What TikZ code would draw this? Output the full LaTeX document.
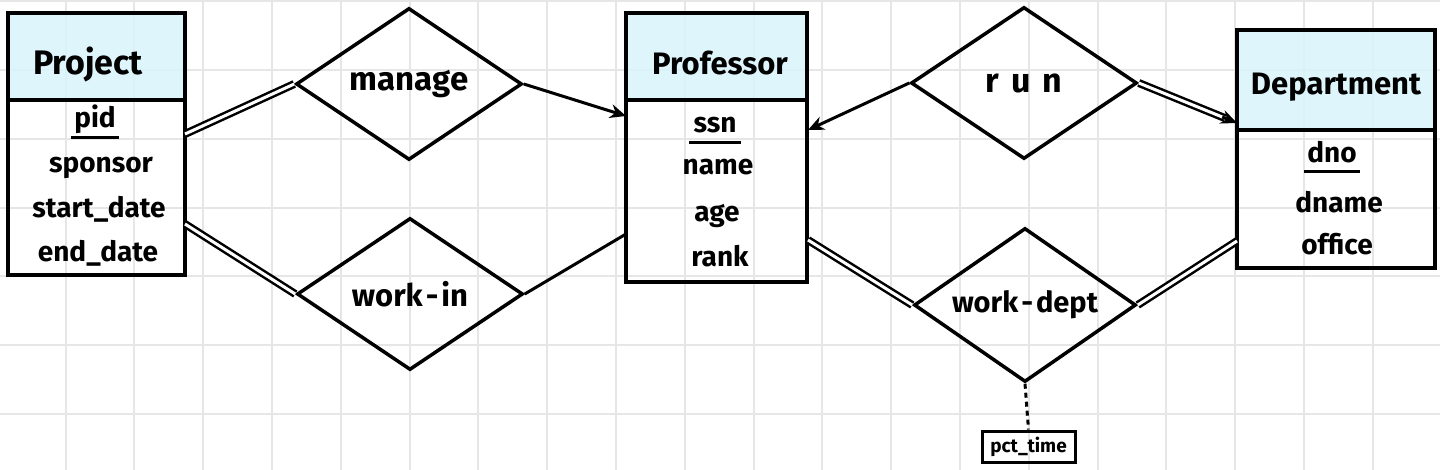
\documentclass[tikz,border=0pt]{standalone}
\usepackage{fontspec}
\setmainfont{Fira Sans}
\usetikzlibrary{shapes.geometric,arrows.meta,calc}
\definecolor{hdrblue}{RGB}{217,244,251}
\definecolor{gridgray}{RGB}{230,230,230}
\begin{document}
\begin{tikzpicture}[x=1pt,y=-1pt,
  gridline/.style={draw=gridgray,line width=2pt},
  hdr/.style={draw,line width=3.5pt,fill=hdrblue,fill opacity=0.85,rectangle,inner sep=0},
  body/.style={draw,line width=3.5pt,rectangle,inner sep=0},
  attr/.style={anchor=base,inner sep=0,font=\bfseries\fontsize{28}{28}\selectfont},
  ttl/.style={anchor=base,inner sep=0,font=\bfseries\fontsize{31}{31}\selectfont},
  rel/.style={draw,line width=3.5pt,shape=diamond,aspect=2,inner sep=0,minimum width=226pt,minimum height=152pt,font=\bfseries\fontsize{31}{31}\selectfont},
  conn/.style={line width=3pt},
  dbl/.style={line width=2.5pt,double=white,double distance=3pt},
  arr/.style={line width=3pt,-{Stealth[length=16pt,width=14pt]}},
  keyline/.style={line width=3pt},
  dotline/.style={line width=3pt,dash pattern=on 5pt off 4pt},
  attrbox/.style={draw,line width=3pt,inner sep=0,minimum width=93pt,minimum height=31pt,font=\bfseries\fontsize{19}{19}\selectfont}
]
\useasboundingbox (0,0) rectangle (1440,470);
\fill[white] (0,0) rectangle (1440,470);
% grid
\foreach \i in {0,...,20} \draw[gridline] ({65.5+68.8*\i},0) -- ({65.5+68.8*\i},470);
\foreach \j in {0,...,6} \draw[gridline] (0,{1.2+68.8*\j}) -- (1440,{1.2+68.8*\j});

% Project
\node[hdr, minimum width=177pt, minimum height=87pt] (projH) at (96.5,56.5) {};
\node[body, minimum width=177pt, minimum height=175pt] (projB) at (96.5,187.5) {};
\node[ttl, font=\bfseries\fontsize{34}{34}\selectfont] (projT) at (88,75) {Project};
\node[attr] (pid) at (95,128) {pid};
\draw[keyline] ([xshift=-3pt,yshift=-10pt]pid.base west) -- ([xshift=3pt,yshift=-10pt]pid.base east);
\node[attr] (sponsor) at (101,173) {sponsor};
\node[attr] (sdate) at (99,218) {start\_date};
\node[attr] (edate) at (98,262) {end\_date};

% Professor
\node[hdr, minimum width=181pt, minimum height=87pt] (profH) at (716.5,56.5) {};
\node[body, minimum width=181pt, minimum height=182pt] (profB) at (716.5,191) {};
\node[ttl] (profT) at (720,75) {Professor};
\node[attr] (ssn) at (715,133) {ssn};
\draw[keyline] ([xshift=-4pt,yshift=-10pt]ssn.base west) -- ([xshift=4pt,yshift=-10pt]ssn.base east);
\node[attr] (pname) at (718,175) {name};
\node[attr] (page) at (717,222) {age};
\node[attr] (prank) at (720,267) {rank};

% Department
\node[hdr, minimum width=198pt, minimum height=100pt] (deptH) at (1336,80) {};
\node[body, minimum width=198pt, minimum height=138pt] (deptB) at (1336,199) {};
\node[ttl] (deptT) at (1336,95) {Department};
\node[attr] (dno) at (1332,163) {dno};
\draw[keyline] ([xshift=-3pt,yshift=-9pt]dno.base west) -- ([xshift=3pt,yshift=-9pt]dno.base east);
\node[attr] (dname) at (1339,213) {dname};
\node[attr] (office) at (1337,255) {office};

% relationships
\node[rel, font=\bfseries\fontsize{33}{33}\selectfont] (manage) at (409,84) {manage};
\node[rel] (workin) at (410,294) {work\kern3pt-\kern3pt in};
\node[rel, font=\bfseries\fontsize{34}{34}\selectfont] (run) at (1024,83) {r\kern12pt u\kern12pt n};
\node[rel, minimum width=222pt, minimum height=154pt, font=\bfseries\fontsize{29}{29}\selectfont] (workdept) at (1025,305) {work\kern3pt-\kern3pt dept};
\node[attrbox] (pct) at (1028.5,446.5) {pct\_time};

% connector end points on the entity boxes
\coordinate (pjA) at (185,134);
\coordinate (pjB) at (185,224);
\coordinate (pfL1) at (626,116);
\coordinate (pfL2) at (626,234);
\coordinate (pfR1) at (808,130);
\coordinate (pfR2) at (808,240);
\coordinate (dpL1) at (1237,123);
\coordinate (dpL2) at (1237,241);

\draw[dbl] (pjA) -- (manage.west);
\draw[arr] (manage.east) -- (pfL1);
\draw[dbl] (pjB) -- (workin.west);
\draw[conn] (workin.east) -- (pfL2);
\draw[arr] (run.west) -- (pfR1);
\draw[dbl, shorten >=13pt] (run.east) -- (dpL1);
\draw[arr] ($(dpL1)!16pt!(run.east)$) -- (dpL1);
\draw[dbl] (pfR2) -- (workdept.west);
\draw[dbl] (workdept.east) -- (dpL2);
\draw[dotline] (workdept.south) -- (pct.north);
\end{tikzpicture}
\end{document}
